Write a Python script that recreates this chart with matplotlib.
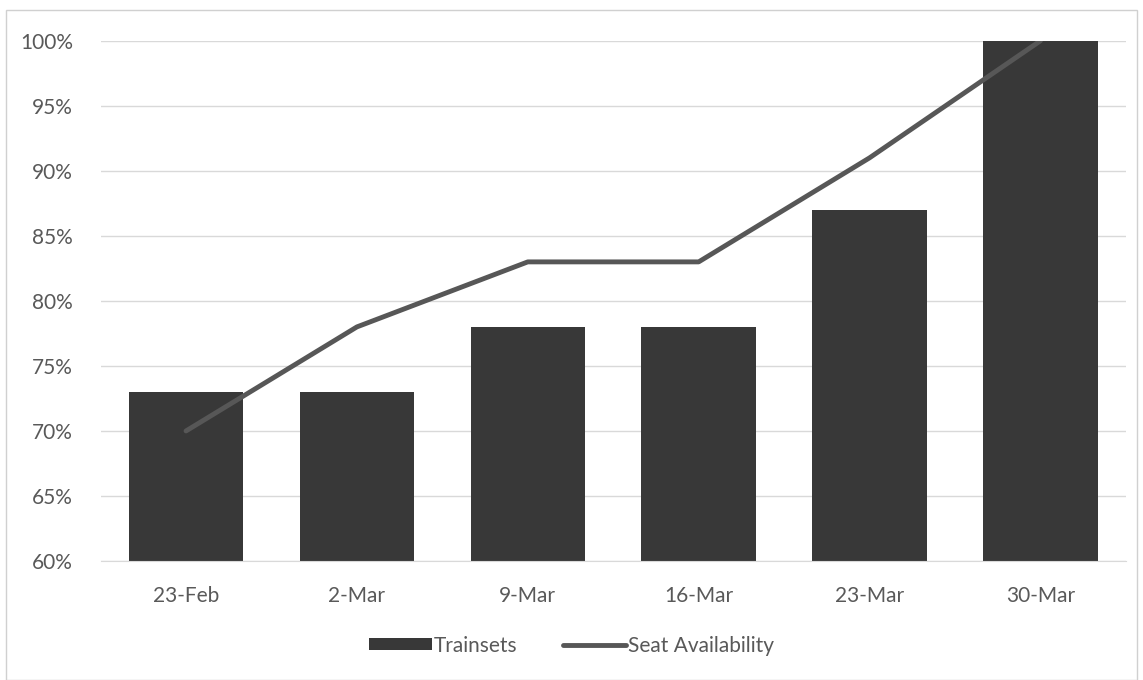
import matplotlib.pyplot as plt
from matplotlib.patches import Rectangle
from matplotlib.ticker import FuncFormatter

weeks = ['23-Feb', '2-Mar', '9-Mar', '16-Mar', '23-Mar', '30-Mar']
trainsets = [73, 73, 78, 78, 87, 100]
seat_availability = [70, 78, 83, 83, 91, 100]

plt.rcParams['font.family'] = ['Lato', 'DejaVu Sans']
text_color = '#595959'

fig = plt.figure(figsize=(11.43, 6.8), dpi=100)
ax = fig.add_axes([0.088, 0.175, 0.897, 0.765])

x = range(len(weeks))
bars = ax.bar(x, trainsets, width=0.67, color='#383838', label='Trainsets', zorder=2)
line, = ax.plot(x, seat_availability, color='#575757', linewidth=3.5,
                solid_capstyle='round', label='Seat Availability', zorder=3)

ax.set_ylim(60, 100)
ax.set_xlim(-0.5, len(weeks) - 0.5)
ax.set_yticks(range(60, 101, 5))
ax.yaxis.set_major_formatter(FuncFormatter(lambda v, p: f'{v:.0f}%'))
ax.set_xticks(list(x))
ax.set_xticklabels(weeks)
ax.tick_params(axis='both', length=0, labelsize=15, colors=text_color)
ax.tick_params(axis='y', pad=20)
ax.tick_params(axis='x', pad=18)
ax.grid(axis='y', color='#d9d9d9', linewidth=1, zorder=0)
for side in ['top', 'right', 'left']:
    ax.spines[side].set_visible(False)
ax.spines['bottom'].set_color('#d9d9d9')

leg = fig.legend([bars, line], ['Trainsets', 'Seat Availability'],
                 loc='lower center', bbox_to_anchor=(0.5, 0.008), ncol=2,
                 frameon=False, fontsize=15, handlelength=3.0,
                 handleheight=0.5, columnspacing=2.2, handletextpad=0.1)
for t in leg.get_texts():
    t.set_color(text_color)

# light frame around the chart area
fig.patches.append(Rectangle((0.005, 0.0), 0.99, 0.985, transform=fig.transFigure,
                             fill=False, edgecolor='#d0d0d0', linewidth=1))

fig.savefig('out.png', dpi=100)
